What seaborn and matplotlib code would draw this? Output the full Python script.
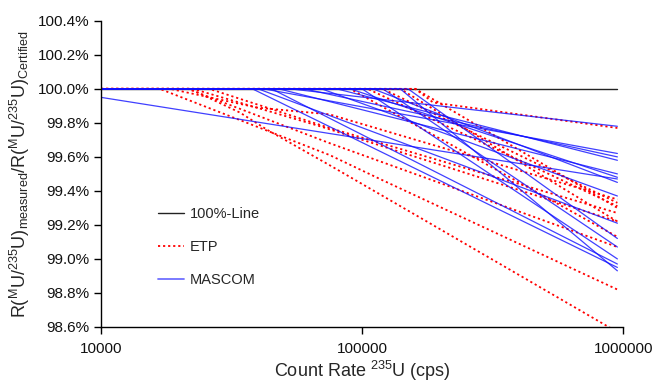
import numpy as np
import pandas as pd
import matplotlib
matplotlib.use("Agg")
import matplotlib.pyplot as plt
import seaborn as sns
from matplotlib.lines import Line2D
from matplotlib.ticker import FixedLocator, FuncFormatter, NullLocator

sns.set_style("ticks")
plt.rcParams["font.family"] = ["Liberation Sans", "DejaVu Sans"]
plt.rcParams["mathtext.default"] = "regular"

# ---- data (count rate in cps, ratio in %) ----
line100_x = [10000, 950000]
line100_y = [100.0, 100.0]

etp_x = [
    [10000, 160000, 187000, 950000],
    [10000, 21900, 34100, 43200, 75300, 117000, 950000],
    [10000, 16800, 75300, 117000, 950000],
    [10000, 21500, 75300, 950000],
    [10000, 22500, 69000, 950000],
    [10000, 26000, 75000, 950000],
    [10000, 90000, 950000],
    [10000, 105000, 950000],
    [10000, 120000, 950000],
    [10000, 140000, 950000],
    [10000, 160000, 950000],
    [10000, 18400, 39600, 75000, 950000],
]
etp_y = [
    [100.0, 100.0, 99.92, 99.77],
    [100.0, 100.0, 99.86, 99.76, 99.55, 99.38, 98.57],
    [100.0, 100.0, 99.61, 99.47, 98.82],
    [100.0, 100.0, 99.68, 99.07],
    [100.0, 100.0, 99.78, 99.22],
    [100.0, 100.0, 99.77, 99.27],
    [100.0, 100.0, 99.13],
    [100.0, 100.0, 99.31],
    [100.0, 100.0, 99.33],
    [100.0, 100.0, 99.22],
    [100.0, 100.0, 99.30],
    [100.0, 100.0, 99.89, 99.85, 99.35],
]

mascom_x = [
    [10000, 950000],
    [10000, 53000, 950000],
    [10000, 42000, 950000],
    [10000, 60000, 950000],
    [10000, 80000, 950000],
    [10000, 48000, 950000],
    [10000, 90000, 950000],
    [10000, 110000, 950000],
    [10000, 70000, 950000],
    [10000, 40000, 950000],
    [10000, 120000, 950000],
    [10000, 45000, 950000],
    [10000, 38000, 950000],
    [10000, 140000, 950000],
    [10000, 100000, 950000],
    [10000, 150000, 950000],
]
mascom_y = [
    [99.95, 99.47],
    [100.0, 100.0, 99.78],
    [100.0, 100.0, 99.62],
    [100.0, 100.0, 99.60],
    [100.0, 100.0, 99.58],
    [100.0, 100.0, 99.50],
    [100.0, 100.0, 99.48],
    [100.0, 100.0, 99.45],
    [100.0, 100.0, 99.37],
    [100.0, 100.0, 99.21],
    [100.0, 100.0, 99.07],
    [100.0, 100.0, 98.97],
    [100.0, 100.0, 98.95],
    [100.0, 100.0, 98.93],
    [100.0, 100.0, 99.00],
    [100.0, 100.0, 99.12],
]

x_ticks = [10000, 100000, 1000000]
y_ticks = [98.6, 98.8, 99.0, 99.2, 99.4, 99.6, 99.8, 100.0, 100.2, 100.4]


def to_long(xs, ys):
    rows = []
    for i, (lx, ly) in enumerate(zip(xs, ys)):
        for a, b in zip(lx, ly):
            rows.append({"line": i, "x": a, "y": b})
    return pd.DataFrame(rows)


df_etp = to_long(etp_x, etp_y)
df_mas = to_long(mascom_x, mascom_y)
df_100 = to_long([line100_x], [line100_y])

fig = plt.figure(figsize=(6.56, 3.86), dpi=100)
ax = fig.add_axes([0.154, 0.153, 0.796, 0.793])

sns.lineplot(data=df_100, x="x", y="y", units="line", estimator=None, sort=False,
             color="#222222", lw=1.0, ax=ax, legend=False)
sns.lineplot(data=df_etp, x="x", y="y", units="line", estimator=None, sort=False,
             color="#ff0000", lw=1.3, linestyle=(0, (1.2, 1.6)), ax=ax, legend=False)
sns.lineplot(data=df_mas, x="x", y="y", units="line", estimator=None, sort=False,
             color="#1010ff", lw=0.9, alpha=0.8, ax=ax, legend=False)

ax.set_xscale("log")
ax.set_xlim(10000, 1000000)
ax.set_ylim(98.6, 100.4)
ax.xaxis.set_major_locator(FixedLocator(x_ticks))
ax.xaxis.set_minor_locator(NullLocator())
ax.xaxis.set_major_formatter(FuncFormatter(lambda v, p: f"{int(round(v))}"))
ax.yaxis.set_major_locator(FixedLocator(y_ticks))
ax.yaxis.set_major_formatter(FuncFormatter(lambda v, p: f"{v:.1f}%"))
ax.tick_params(axis="both", direction="out", length=5, width=1, labelsize=11,
               color="black", labelcolor="#111111")
ax.tick_params(axis="x", pad=6)
for s in ["top", "right"]:
    ax.spines[s].set_visible(False)
for s in ["left", "bottom"]:
    ax.spines[s].set_color("black")
    ax.spines[s].set_linewidth(1.0)

ax.set_xlabel("Count Rate $^{235}$U (cps)", fontsize=13, labelpad=2)
ax.set_ylabel(r"R($^{M}$U/$^{235}$U)$_{measured}$/R($^{M}$U/$^{235}$U)$_{Certified}$",
              fontsize=13, labelpad=4)

handles = [
    Line2D([0], [0], color="#222222", lw=1.0),
    Line2D([0], [0], color="#ff0000", lw=1.3, linestyle=(0, (1.2, 1.6))),
    Line2D([0], [0], color="#7070ff", lw=1.3),
]
ax.legend(handles, ["100%-Line", "ETP", "MASCOM"], loc="center left",
          bbox_to_anchor=(0.109, 0.261), frameon=False, fontsize=10.5,
          handlelength=1.8, handletextpad=0.4, labelspacing=1.3,
          borderpad=0, borderaxespad=0)

fig.savefig("out.png", dpi=100)
